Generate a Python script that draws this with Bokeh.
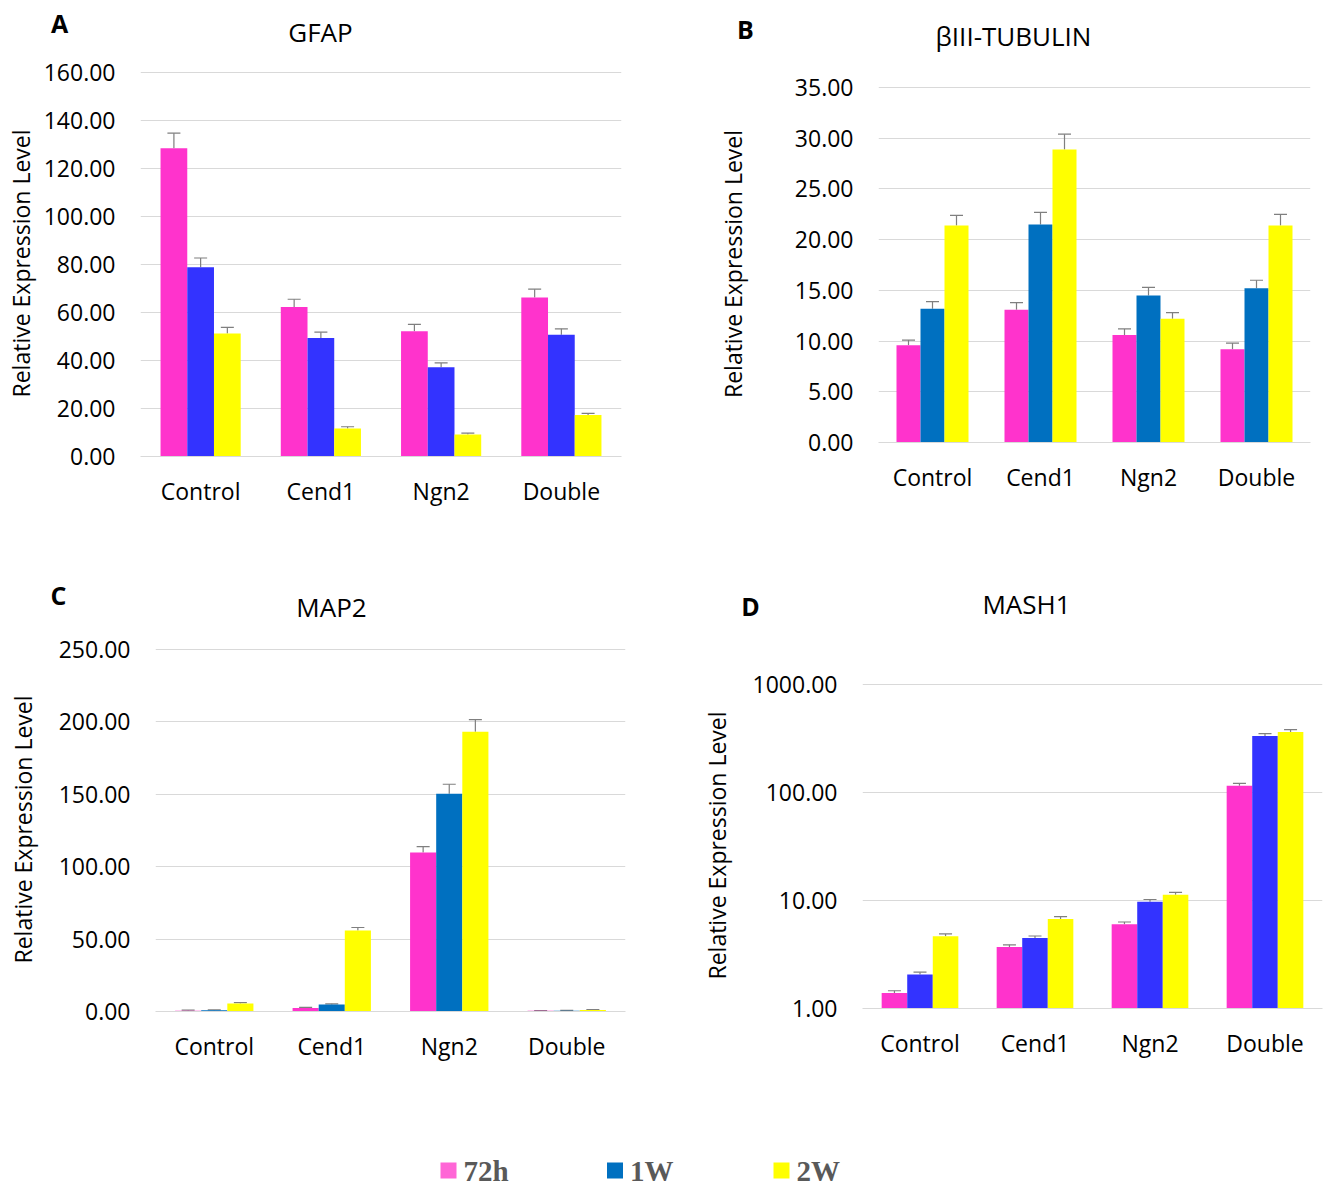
from bokeh.plotting import figure
from bokeh.models import (FactorRange, Range1d, Whisker, TeeHead,
                          NumeralTickFormatter, FixedTicker, ColumnDataSource)
from bokeh.transform import dodge
from bokeh.layouts import column, row
from bokeh.core.properties import value
from bokeh.embed import file_html
from bokeh.resources import INLINE

# ---- data -------------------------------------------------------------
categories = ["Control", "Cend1", "Ngn2", "Double"]
series = ["72h", "1W", "2W"]

# GFAP
gfap_72h = [128.4, 62.3, 52.2, 66.2]
gfap_1w = [78.8, 49.4, 37.2, 50.7]
gfap_2w = [51.2, 11.7, 9.2, 17.3]
gfap_err_72h = [6.3, 3.2, 2.8, 3.5]
gfap_err_1w = [3.9, 2.4, 1.8, 2.5]
gfap_err_2w = [2.6, 0.7, 0.5, 0.7]

# beta-III tubulin
tubb3_72h = [9.6, 13.1, 10.6, 9.2]
tubb3_1w = [13.2, 21.5, 14.5, 15.2]
tubb3_2w = [21.4, 28.9, 12.2, 21.4]
tubb3_err_72h = [0.5, 0.7, 0.6, 0.6]
tubb3_err_1w = [0.7, 1.2, 0.8, 0.8]
tubb3_err_2w = [1.0, 1.5, 0.6, 1.1]

# MAP2
map2_72h = [0.6, 2.5, 109.7, 0.5]
map2_1w = [0.8, 4.8, 150.4, 0.6]
map2_2w = [5.6, 55.9, 193.2, 1.0]
map2_err_72h = [0.3, 0.4, 4.1, 0.2]
map2_err_1w = [0.3, 0.5, 6.5, 0.2]
map2_err_2w = [0.5, 2.1, 8.3, 0.3]

# MASH1 (log scale)
mash1_72h = [1.39, 3.71, 6.01, 115.0]
mash1_1w = [2.06, 4.50, 9.74, 333.0]
mash1_2w = [4.66, 6.74, 11.3, 362.0]
mash1_err_72h = [0.07, 0.17, 0.31, 6.0]
mash1_err_1w = [0.11, 0.19, 0.46, 17.0]
mash1_err_2w = [0.24, 0.34, 0.60, 19.0]

gfap_ticks = [0, 20, 40, 60, 80, 100, 120, 140, 160]
tubb3_ticks = [0, 5, 10, 15, 20, 25, 30, 35]
map2_ticks = [0, 50, 100, 150, 200, 250]
mash1_ticks = [1, 10, 100, 1000]

# ---- styling ----------------------------------------------------------
PINK = "#FF33CC"
BLUE_A = "#3333FF"
BLUE_B = "#0070C0"
YELLOW = "#FFFF00"
LEGEND_PINK = "#FF66D6"
GRID = "#D9D9D9"
ERR = "#7F7F7F"
FONT = "Open Sans"

BAR_W = 2 / 9
OFFSETS = [-BAR_W, 0.0, BAR_W]
PANEL_H = 560


def pixel_strip(width, height):
    """A bare figure whose data units are pixels (y grows downward)."""
    s = figure(width=width, height=height, x_range=Range1d(0, width),
               y_range=Range1d(height, 0), output_backend="svg",
               toolbar_location=None, x_axis_location=None,
               y_axis_location=None, min_border=0)
    s.min_border_left = s.min_border_right = 0
    s.min_border_top = s.min_border_bottom = 0
    s.outline_line_color = None
    s.grid.grid_line_color = None
    return s


def make_header(width, height, title, title_xy, letter, letter_xy):
    h = pixel_strip(width, height)
    h.text(x=[title_xy[0]], y=[title_xy[1]], text=[title],
           text_font=value(FONT), text_font_size="26px", text_color="black",
           text_align="center", text_baseline="middle")
    h.text(x=[letter_xy[0]], y=[letter_xy[1]], text=[letter],
           text_font=value(FONT), text_font_size="25px",
           text_font_style="bold", text_color="black",
           text_align="center", text_baseline="middle")
    return h


def make_panel(width, height, borders, y_range, y_type, ticks, vals, errs,
               blue, ylab_standoff):
    left, right, top, bottom = borders
    p = figure(width=width, height=height,
               x_range=FactorRange(*categories, range_padding=0, factor_padding=0),
               y_range=y_range, y_axis_type=y_type,
               output_backend="svg", toolbar_location=None,
               min_border_left=left, min_border_right=right,
               min_border_top=top, min_border_bottom=bottom)
    p.outline_line_color = None
    p.background_fill_color = "white"
    p.border_fill_color = "white"

    base = 1 if y_type == "log" else 0
    colors = [PINK, blue, YELLOW]
    data = {"cat": categories}
    for s, v, e in zip(series, vals, errs):
        data["v" + s] = v
        data["u" + s] = [a + b for a, b in zip(v, e)]
    src = ColumnDataSource(data)

    for s, off, c in zip(series, OFFSETS, colors):
        xs = dodge("cat", off, range=p.x_range)
        p.vbar(x=xs, top="v" + s, bottom=base, width=BAR_W, source=src,
               fill_color=c, line_color=None)
        p.add_layout(Whisker(base=xs, lower="v" + s, upper="u" + s,
                             source=src, dimension="height",
                             line_color=ERR, line_width=1.2,
                             lower_head=None,
                             upper_head=TeeHead(size=13, line_color=ERR,
                                                line_width=1.2)))

    # axes
    p.xgrid.grid_line_color = None
    p.ygrid.grid_line_color = GRID
    p.ygrid.grid_line_width = 1
    p.yaxis.ticker = FixedTicker(ticks=ticks, minor_ticks=[])
    p.yaxis.formatter = NumeralTickFormatter(format="0.00")
    p.yaxis.axis_line_color = None
    p.yaxis.major_tick_line_color = None
    p.yaxis.minor_tick_line_color = None
    p.yaxis.major_label_standoff = 19
    p.yaxis.major_label_text_font = FONT
    p.yaxis.major_label_text_font_size = "23px"
    p.yaxis.major_label_text_color = "black"
    p.yaxis.axis_label = "Relative Expression Level"
    p.yaxis.axis_label_text_font = FONT
    p.yaxis.axis_label_text_font_size = "23px"
    p.yaxis.axis_label_text_font_style = "normal"
    p.yaxis.axis_label_text_color = "black"
    p.yaxis.axis_label_standoff = ylab_standoff

    p.xaxis.axis_line_color = GRID
    p.xaxis.major_tick_line_color = None
    p.xaxis.minor_tick_line_color = None
    p.xaxis.major_label_standoff = 12
    p.xaxis.major_label_text_font = FONT
    p.xaxis.major_label_text_font_size = "23px"
    p.xaxis.major_label_text_color = "black"
    return p


def block(width, header_h, heading, panel_args):
    """Heading strip stacked on its panel; nesting keeps frames independent."""
    title, title_xy, letter, letter_xy = heading
    borders = list(panel_args[0])
    borders[2] -= header_h                      # frame top measured from strip
    h = make_header(width, header_h, title, title_xy, letter, letter_xy)
    p = make_panel(width, PANEL_H - header_h, tuple(borders), *panel_args[1:])
    return column(column(h), column(p))


# frame margins (left, right, top, bottom) are given for the whole 560px
# block; value ranges reach a hair past the top tick so its grid line shows
bA = block(680, 50, ("GFAP", (320, 31), "A", (59, 22)),
           ((140, 59, 70, 104), Range1d(0, 160.8), "linear", gfap_ticks,
            [gfap_72h, gfap_1w, gfap_2w],
            [gfap_err_72h, gfap_err_1w, gfap_err_2w], BLUE_A, 4))
bB = block(653, 55, ("\u03b2III-TUBULIN", (333, 35), "B", (65, 28)),
           ((198, 23, 85, 118), Range1d(0, 35.2), "linear", tubb3_ticks,
            [tubb3_72h, tubb3_1w, tubb3_2w],
            [tubb3_err_72h, tubb3_err_1w, tubb3_err_2w], BLUE_B, 43))
bC = block(680, 66, ("MAP2", (331, 46), "C", (58, 34)),
           ((155, 55, 87, 109), Range1d(0, 251.3), "linear", map2_ticks,
            [map2_72h, map2_1w, map2_2w],
            [map2_err_72h, map2_err_1w, map2_err_2w], BLUE_B, 17))
bD = block(653, 66, ("MASH1", (346, 43), "D", (70, 45)),
           ((182, 11, 122, 112), Range1d(1, 1040), "log", mash1_ticks,
            [mash1_72h, mash1_1w, mash1_2w],
            [mash1_err_72h, mash1_err_1w, mash1_err_2w], BLUE_A, 17))

# ---- shared legend strip ----------------------------------------------
legend_colors = [LEGEND_PINK, BLUE_B, YELLOW]
legend_x = [448 + 166.5 * i for i in range(3)]
pL = pixel_strip(1333, 67)
lsrc = ColumnDataSource({"x": legend_x, "tx": [x + 15 for x in legend_x],
                         "y": [50] * 3, "c": legend_colors, "t": series})
pL.rect(x="x", y="y", width=16, height=16, fill_color="c", line_color=None,
        source=lsrc)
pL.text(x="tx", y="y", text="t", source=lsrc,
        text_font=value("Liberation Serif"), text_font_style="bold",
        text_font_size="29px", text_color="#595959",
        text_baseline="middle", text_align="left")

layout = column(row(bA, bB), row(bC, bD), column(pL))

open("out.html", "w").write(file_html(layout, INLINE))
